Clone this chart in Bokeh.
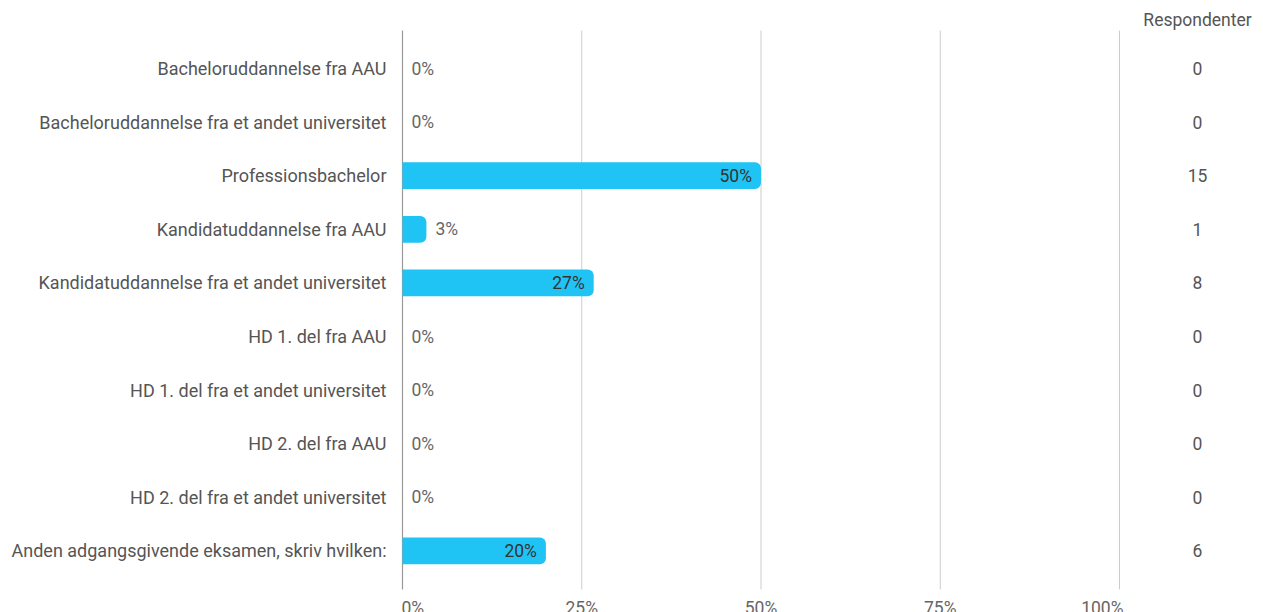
from bokeh.plotting import figure
from bokeh.models import ColumnDataSource, Range1d, FixedTicker
from bokeh.core.properties import value
from bokeh.embed import file_html
from bokeh.resources import INLINE

# ---------------- data ----------------
categories = [
    "Bacheloruddannelse fra AAU",
    "Bacheloruddannelse fra et andet universitet",
    "Professionsbachelor",
    "Kandidatuddannelse fra AAU",
    "Kandidatuddannelse fra et andet universitet",
    "HD 1. del fra AAU",
    "HD 1. del fra et andet universitet",
    "HD 2. del fra AAU",
    "HD 2. del fra et andet universitet",
    "Anden adgangsgivende eksamen, skriv hvilken:",
]
respondents = [0, 0, 15, 1, 8, 0, 0, 0, 0, 6]
x_ticks = [0, 25, 50, 75, 100]
x_tick_labels = ["0%", "25%", "50%", "75%", "100%"]
header = "Respondenter"

total = sum(respondents)
pct = [100.0 * r / total for r in respondents]
pct_labels = [f"{round(v)}%" for v in pct]

# ---------------- layout constants (pixels in the picture) ----------------
W, H = 1263, 612
FRAME_LEFT = 400          # x of frame left edge
ZERO_PX = 402             # x of 0%
PX_PER_UNIT = 7.17        # pixels per percent
ROW0_PX = 68              # y of first row centre
ROW_PX = 53.6             # row spacing

def xdata(px):
    return (px - ZERO_PX) / PX_PER_UNIT

def ydata(py):
    return (py - ROW0_PX) / ROW_PX

FONT = "Roboto"
FS = "17.5px"
BAR_COLOR = "#20C4F4"

p = figure(
    width=W, height=H,
    output_backend="svg", toolbar_location=None,
    x_range=Range1d(xdata(FRAME_LEFT), xdata(W)),
    y_range=Range1d(ydata(H), ydata(0)),
    min_border_left=FRAME_LEFT, min_border_right=0,
    min_border_top=0, min_border_bottom=0,
)
p.outline_line_color = None
p.xgrid.visible = False
p.ygrid.visible = False
p.xaxis.visible = False

rows = list(range(len(categories)))
p.yaxis.ticker = FixedTicker(ticks=rows)
p.yaxis.major_label_overrides = {i: c for i, c in zip(rows, categories)}
p.yaxis.axis_line_color = None
p.yaxis.major_tick_line_color = None
p.yaxis.minor_tick_line_color = None
p.yaxis.major_label_standoff = 8
p.yaxis.major_label_text_font = FONT
p.yaxis.major_label_text_font_size = "18px"
p.yaxis.major_label_text_color = "#555555"

# gridlines and axis line
grid_top = ydata(30)
grid_bottom = ydata(589)
gx = x_ticks[1:]
p.segment(x0=gx, x1=gx, y0=[grid_top] * len(gx), y1=[grid_bottom] * len(gx),
          line_color="#cccccc", line_width=1)
p.segment(x0=[0], x1=[0], y0=[grid_top], y1=[grid_bottom],
          line_color="#999999", line_width=1.2)

# bars
src = ColumnDataSource(dict(y=rows, pct=pct, lab=pct_labels, cat=categories))
p.hbar(y="y", left=0, right="pct", height=0.5, source=src,
       fill_color=BAR_COLOR, line_color=None,
       border_radius=(0, 6, 6, 0))

# percent labels
inside = [i for i in rows if pct[i] >= 10]
outside = [i for i in rows if pct[i] < 10]
p.text(x=[pct[i] for i in inside], y=[i for i in inside],
       text=[pct_labels[i] for i in inside],
       x_offset=-9, text_align="right", text_baseline="middle",
       text_font=value(FONT), text_font_size=FS, text_color="#333333")
p.text(x=[pct[i] for i in outside], y=[i for i in outside],
       text=[pct_labels[i] for i in outside],
       x_offset=9, text_align="left", text_baseline="middle",
       text_font=value(FONT), text_font_size=FS, text_color="#666666")

# respondents column
col_x = xdata(1197)
p.text(x=[col_x] * len(rows), y=rows, text=[str(r) for r in respondents],
       text_align="center", text_baseline="middle",
       text_font=value(FONT), text_font_size=FS, text_color="#555555")
p.text(x=[col_x], y=[ydata(19)], text=[header],
       text_align="center", text_baseline="middle",
       text_font=value(FONT), text_font_size=FS, text_color="#555555")

# bottom tick labels
tick_src = ColumnDataSource(dict(
    x=x_ticks, lab=x_tick_labels,
    align=["left", "center", "center", "center", "right"],
    off=[-1, 0, 0, 0, 4],
))
p.text(x="x", y=ydata(597), text="lab", source=tick_src,
       text_align="align", x_offset="off", text_baseline="top",
       text_font=value(FONT), text_font_size=FS, text_color="#666666")

open("out.html", "w").write(file_html(p, INLINE))
